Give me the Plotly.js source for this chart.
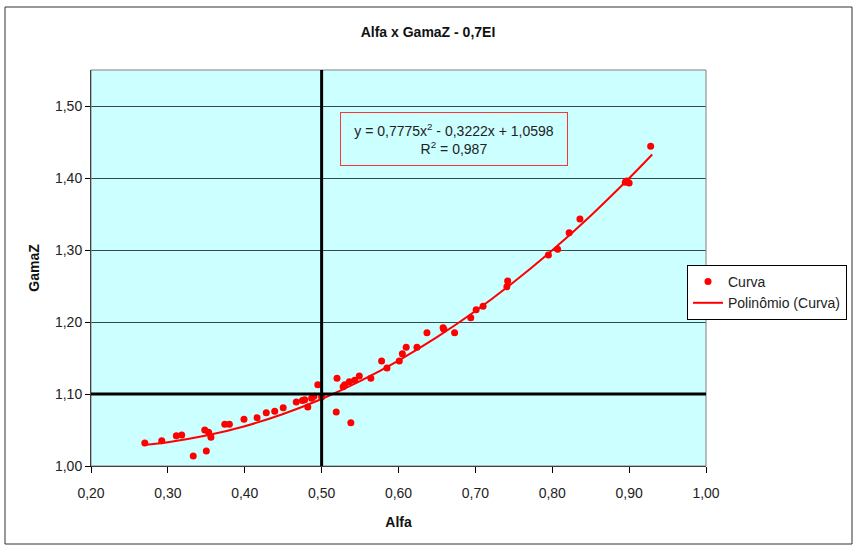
<!DOCTYPE html>
<html>
<head>
<meta charset="utf-8">
<script src="https://cdn.plot.ly/plotly-3.0.1.min.js"></script>
<style>
html,body{margin:0;padding:0;background:#fff;}
#chart{width:856px;height:547px;}
</style>
</head>
<body>
<div id="chart"></div>
<script>
// Scatter points "Curva" (Alfa, GamaZ)
const alfa = [0.270,0.292,0.311,0.318,0.333,0.350,0.348,0.353,0.356,0.374,0.380,0.399,0.416,0.428,0.439,0.450,
  0.467,0.475,0.478,0.482,0.487,0.490,0.495,0.500,0.519,0.538,0.520,0.528,0.536,0.549,0.564,0.578,0.585,
  0.601,0.605,0.610,0.624,0.637,0.658,0.659,0.673,0.694,0.701,0.710,0.741,0.742,0.795,0.807,0.822,0.836,
  0.895,0.897,0.900,0.928,0.530,0.543];
const gamaZ = [1.032,1.035,1.042,1.043,1.014,1.021,1.050,1.047,1.040,1.058,1.058,1.065,1.067,1.074,1.076,1.081,
  1.089,1.091,1.092,1.082,1.094,1.097,1.113,1.096,1.075,1.060,1.122,1.110,1.117,1.125,1.122,1.146,1.136,
  1.146,1.156,1.165,1.165,1.185,1.192,1.190,1.185,1.206,1.217,1.222,1.249,1.257,1.293,1.301,1.324,1.343,
  1.394,1.396,1.393,1.444,1.113,1.119];
// Polynomial trendline "Polinômio (Curva)" values
const polyX = [0.27,0.30,0.35,0.40,0.45,0.50,0.55,0.60,0.65,0.70,0.75,0.80,0.85,0.90,0.93];
const polyY = [1.0295,1.0331,1.0423,1.0553,1.0723,1.0931,1.1178,1.1464,1.1789,1.2152,1.2555,1.2996,1.3477,1.3996,1.4326];
// Reference lines
const refAlfa = 0.50;
const refGamaZ = 1.10;
const xTicks = [0.2,0.3,0.4,0.5,0.6,0.7,0.8,0.9,1.0];
const yTicks = [1.0,1.1,1.2,1.3,1.4,1.5];

const FONT = '"Liberation Sans Narrow", "Liberation Sans", Arial, sans-serif';

const traces = [
  {x: alfa, y: gamaZ, type: 'scatter', mode: 'markers', name: 'Curva',
   marker: {color: '#ff0000', size: 7}},
  {x: polyX, y: polyY, type: 'scatter', mode: 'lines', name: 'Polinômio (Curva)',
   line: {color: '#ff0000', width: 2, shape: 'spline'}}
];

// plot area: left 91, right 706, top 70, bottom 466
const L = 91, R = 150, T = 70, B = 81;
const pw = 856 - L - R, ph = 547 - T - B;
function px(x){return (x - L)/pw;}
function py(y){return (547 - B - y)/ph;}

const layout = {
  width: 856, height: 547,
  margin: {l: L, r: R, t: T, b: B, autoexpand: false},
  paper_bgcolor: '#ffffff',
  plot_bgcolor: '#ccffff',
  font: {family: FONT, size: 14, color: '#222'},
  separators: ',.',
  title: {text: '<b>Alfa x GamaZ - 0,7EI</b>', x: 0.5, xref: 'container', xanchor: 'center',
          y: 1 - 32/547, yref: 'container', yanchor: 'middle', font: {size: 14, color: '#111', family: FONT}},
  xaxis: {range: [0.2, 1.0], tickvals: xTicks, tickformat: '.2f', showgrid: false, zeroline: false,
          showline: true, linecolor: '#000', linewidth: 1, ticks: 'outside', ticklen: 6, tickcolor: '#000',
          ticklabelstandoff: 8, automargin: false,
          tickfont: {size: 14, color: '#222'},
          title: {text: '<b>Alfa</b>', font: {size: 14, color: '#111'}, standoff: 17}},
  yaxis: {range: [1.0, 1.55], tickvals: yTicks, tickformat: '.2f', showgrid: true, gridcolor: '#3a4848', gridwidth: 1,
          zeroline: false, showline: true, linecolor: '#000', linewidth: 1, ticks: 'outside', ticklen: 5, tickcolor: '#000',
          automargin: false,
          tickfont: {size: 14, color: '#222'},
          title: {text: '<b>GamaZ</b>', font: {size: 14, color: '#111'}, standoff: 12}},
  showlegend: true,
  legend: {x: px(687), y: py(265), xanchor: 'left', yanchor: 'top', bgcolor: '#ffffff',
           bordercolor: '#000', borderwidth: 1, font: {size: 14, color: '#222'}, tracegroupgap: 2,
           itemwidth: 30},
  shapes: [
    {type: 'rect', xref: 'paper', yref: 'paper', x0: 0, x1: 1, y0: 0, y1: 1,
     line: {color: '#808080', width: 1}},
    {type: 'line', xref: 'x', yref: 'y', x0: refAlfa, x1: refAlfa, y0: 1.0, y1: 1.55,
     line: {color: '#000', width: 3}},
    {type: 'line', xref: 'x', yref: 'y', x0: 0.2, x1: 1.0, y0: refGamaZ, y1: refGamaZ,
     line: {color: '#000', width: 3}},
    {type: 'rect', xref: 'paper', yref: 'paper', x0: px(5), x1: px(852), y0: py(7), y1: py(544),
     line: {color: '#333', width: 1}}
  ],
  annotations: [
    {xref: 'paper', yref: 'paper', x: px(454), y: py(139), xanchor: 'center', yanchor: 'middle',
     text: 'y = 0,7775x<sup>2</sup> - 0,3222x + 1,0598<br>R<sup>2</sup> = 0,987', showarrow: false,
     align: 'center', font: {size: 14, color: '#222'}, bgcolor: '#ccffff',
     bordercolor: '#ff3333', borderwidth: 1, borderpad: 8, width: 210}
  ]
};

Plotly.newPlot('chart', traces, layout, {displayModeBar: false, staticPlot: true});
</script>
</body>
</html>
